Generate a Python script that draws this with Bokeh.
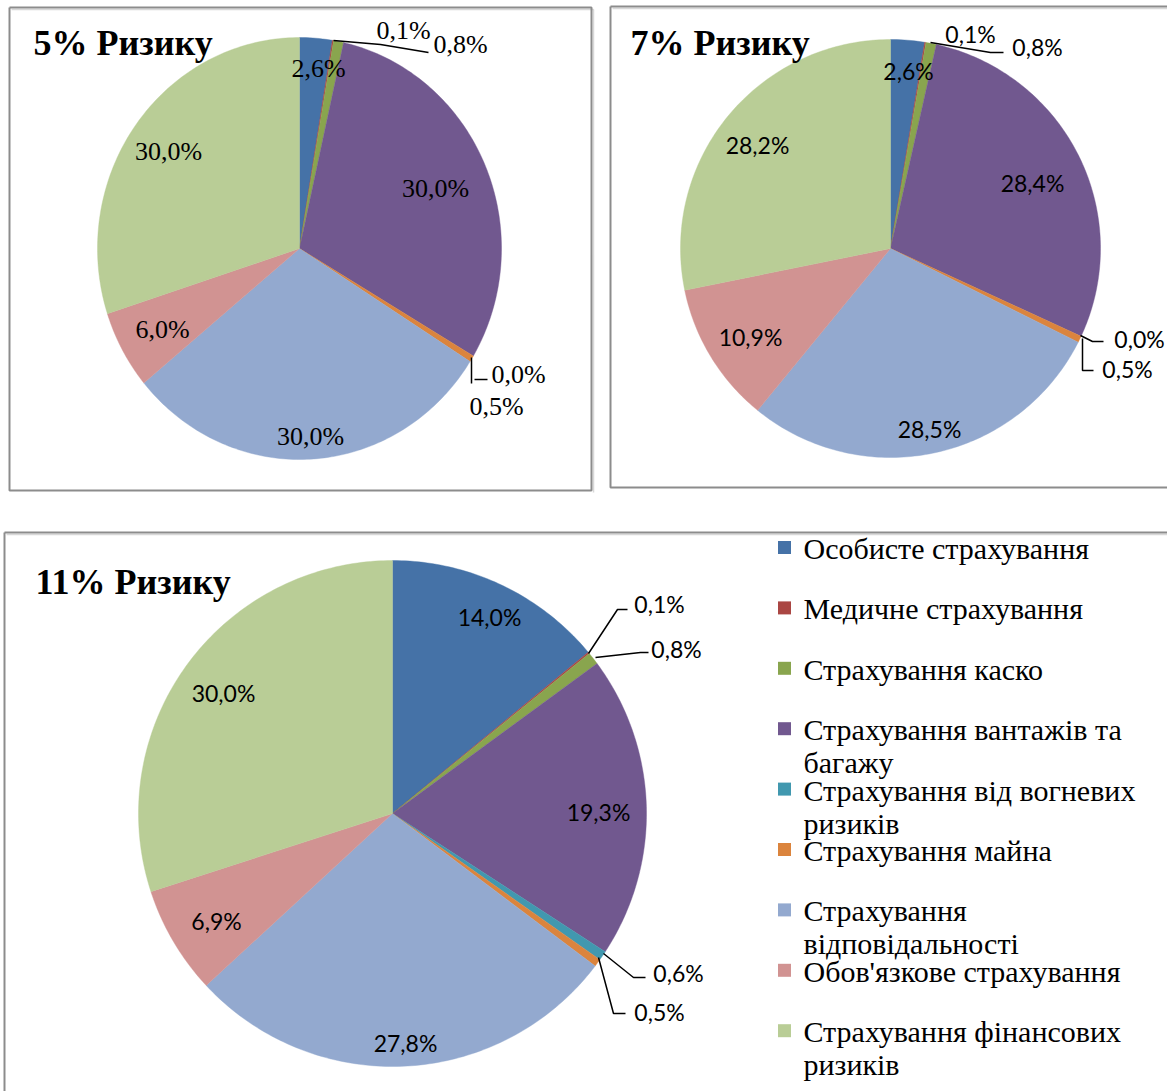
import numpy as np
from bokeh.plotting import figure
from bokeh.models import Range1d
from bokeh.core.properties import value
from bokeh.embed import file_html
from bokeh.resources import INLINE

# ---------------- data ----------------
categories = ["Особисте страхування", "Медичне страхування", "Страхування каско",
              "Страхування вантажів та багажу", "Страхування від вогневих ризиків",
              "Страхування майна", "Страхування відповідальності",
              "Обов'язкове страхування", "Страхування фінансових ризиків"]
legend_labels = ["Особисте страхування", "Медичне страхування", "Страхування каско",
                 "Страхування вантажів та\nбагажу", "Страхування від вогневих\nризиків",
                 "Страхування майна", "Страхування\nвідповідальності",
                 "Обов'язкове страхування", "Страхування фінансових\nризиків"]
colors = ["#4572A7", "#AA4643", "#89A54E", "#71588F", "#4198AF",
          "#DB843D", "#93A9CF", "#D19392", "#B9CD96"]
titles = ["5% Ризику", "7% Ризику", "11% Ризику"]
risk5 = [2.6, 0.1, 0.8, 30.0, 0.0, 0.5, 30.0, 6.0, 30.0]
risk7 = [2.6, 0.1, 0.8, 28.4, 0.0, 0.5, 28.5, 10.9, 28.2]
risk11 = [14.0, 0.1, 0.8, 19.3, 0.6, 0.5, 27.8, 6.9, 30.0]

# ---------------- layout ----------------
W, H = 1167, 1091
p = figure(width=W, height=H, output_backend="svg", toolbar_location=None,
           x_range=Range1d(0, W), y_range=Range1d(H, 0), min_border=0)
p.axis.visible = False
p.grid.visible = False
p.outline_line_color = None
p.background_fill_color = "white"

# panel frames
frames = [(9, 7, 591, 490), (610, 6, 1180, 487), (4, 532, 1180, 1100)]
for (x0, y0, x1, y1) in frames:
    p.line([x0 + 2, x1 + 2, x1 + 2], [y0 + 2, y0 + 2, y1 + 2], line_color="#d8d8d8", line_width=1.5)
    p.line([x0, x1, x1, x0, x0], [y0, y0, y1, y1, y0], line_color="#8c8c8c", line_width=2)

pies = [
    dict(vals=risk5, cx=299, cy=248, rx=202, ry=211, title=titles[0], tx=33, ty=42,
         font="Liberation Serif", size="26px",
         labels=[(318, 68), (403, 30), (460, 44), (435, 188), (518, 374), (496, 406),
                 (310, 436), (162, 329), (168, 151)],
         leaders=[[(333, 40), (380, 44), (428, 52)],
                  [(471, 357), (471, 383)],
                  [(474, 379), (487, 379)]]),
    dict(vals=risk7, cx=890, cy=248, rx=210, ry=209, title=titles[1], tx=630, ty=42,
         font="Lato", size="23px",
         labels=[(908, 70), (970, 33), (1037, 46), (1032, 182), (1139, 338), (1127, 368),
                 (929, 428), (750, 336), (757, 144)],
         leaders=[[(930, 42), (990, 52), (1003, 52)],
                  [(1080, 335), (1092, 341), (1103, 341)],
                  [(1082, 338), (1082, 370), (1093, 370)]]),
    dict(vals=risk11, cx=392, cy=813, rx=254, ry=253, title=titles[2], tx=35, ty=581,
         font="Lato", size="23px",
         labels=[(489, 616), (659, 603), (676, 648), (598, 811), (678, 972), (659, 1011),
                 (405, 1042), (216, 920), (223, 692)],
         leaders=[[(588, 653), (617, 609), (627, 609)],
                  [(595, 657), (640, 652), (648, 652)],
                  [(603, 953), (633, 977), (645, 977)],
                  [(598, 957), (613, 1013), (625, 1013)]]),
]

def fmt(v):
    return ("%.1f" % v).replace(".", ",") + "%"

for pie in pies:
    vals = np.array(pie["vals"], dtype=float)
    fr = vals / vals.sum()
    ends = np.cumsum(fr) * 2 * np.pi
    starts = ends - fr * 2 * np.pi
    xs, ys, cs = [], [], []
    for s, e, c in zip(starts, ends, colors):
        if e - s <= 0:
            continue
        n = max(3, int(np.degrees(e - s)) + 2)
        th = np.linspace(s, e, n)
        px = np.concatenate([[pie["cx"]], pie["cx"] + pie["rx"] * np.sin(th)])
        py = np.concatenate([[pie["cy"]], pie["cy"] - pie["ry"] * np.cos(th)])
        xs.append(list(px)); ys.append(list(py)); cs.append(c)
    p.patches(xs, ys, fill_color=cs, line_color=cs, line_width=0.4)
    # leader lines
    for ld in pie["leaders"]:
        p.line([a for a, b in ld], [b for a, b in ld], line_color="black", line_width=1.5)
    # data labels
    lx = [a for a, b in pie["labels"]]
    ly = [b for a, b in pie["labels"]]
    p.text(lx, ly, text=[fmt(v) for v in pie["vals"]], text_align="center",
           text_baseline="middle", text_font=value(pie["font"]),
           text_font_size=pie["size"], text_color="black")
    # title
    p.text([pie["tx"]], [pie["ty"]], text=[pie["title"]], text_align="left",
           text_baseline="middle", text_font=value("Liberation Serif"),
           text_font_size="36px", text_font_style="bold", text_color="black")

# legend
leg_x, leg_y0, leg_dy = 784, 547, 60.4
sq_y = [leg_y0 + i * leg_dy for i in range(len(categories))]
p.rect([leg_x] * len(categories), sq_y, width=13, height=13, fill_color=colors, line_color=None)
tx, ty, tt = [], [], []
for i, lab in enumerate(legend_labels):
    for k, line in enumerate(lab.split("\n")):
        tx.append(803); ty.append(sq_y[i] + 1 + k * 33); tt.append(line)
p.text(tx, ty, text=tt, text_align="left", text_baseline="middle",
       text_font=value("Liberation Serif"), text_font_size="30px", text_color="black")

open("out.html", "w").write(file_html(p, INLINE))
